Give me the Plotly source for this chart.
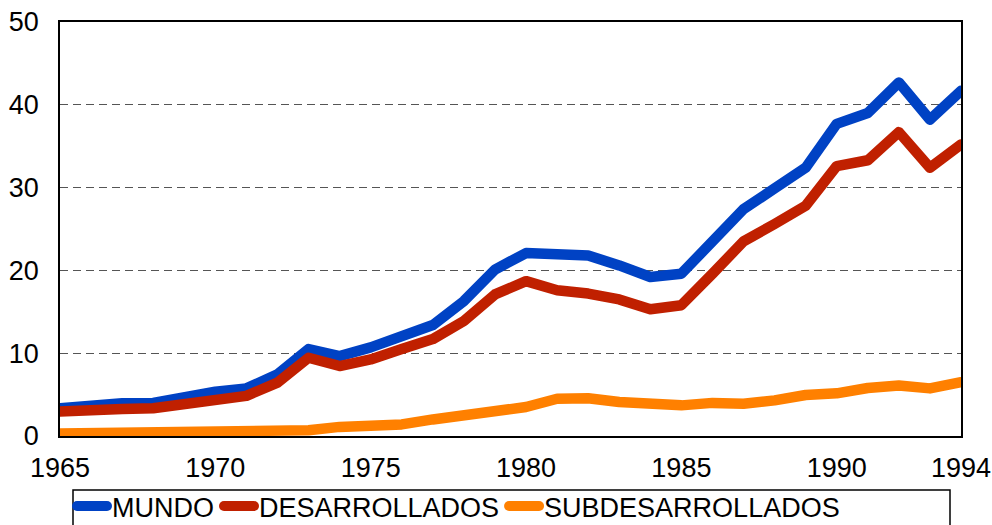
import plotly.graph_objects as go

years = list(range(1965, 1995))
mundo = [3.35, 3.8, 3.95, 4.0, 4.75, 5.35, 5.75, 7.45, 10.5, 9.65, 10.7, 12.1, 13.4, 16.3, 20.1,
         22.1, 22.0, 21.8, 20.6, 19.2, 19.6, 23.6, 27.4, 29.9, 32.4, 37.7, 39.0, 42.7, 38.2, 41.7]
desarrollados = [2.95, 3.2, 3.25, 3.35, 3.9, 4.4, 4.85, 6.45, 9.45, 8.45, 9.25, 10.5, 11.7, 13.9, 17.1,
                 18.7, 17.6, 17.2, 16.5, 15.3, 15.8, 19.6, 23.5, 25.6, 27.8, 32.6, 33.3, 36.7, 32.4, 35.2]
subdesarrollados = [0.3, 0.35, 0.2, 0.3, 0.3, 0.4, 0.45, 0.5, 0.7, 1.1, 1.15, 1.4, 2.0, 2.6, 3.1,
                    3.5, 4.5, 4.55, 4.1, 3.95, 3.7, 4.0, 3.9, 4.3, 4.95, 5.15, 5.8, 6.1, 5.75, 6.5]
x_ticks = [1965, 1970, 1975, 1980, 1985, 1990, 1994]
y_ticks = [0, 10, 20, 30, 40, 50]

series = [("MUNDO", mundo, "#0042C4"),
          ("DESARROLLADOS", desarrollados, "#C02000"),
          ("SUBDESARROLLADOS", subdesarrollados, "#FF8000")]

fig = go.Figure()
for name, vals, col in series:
    fig.add_trace(go.Scatter(x=years, y=vals, name=name, mode="lines", cliponaxis=False,
                             line=dict(color=col, width=10.5)))

font = dict(family="Liberation Sans, Arial, sans-serif", size=27, color="black")
fig.update_layout(
    width=992, height=525,
    margin=dict(l=60, r=31, t=22, b=89, autoexpand=False),
    paper_bgcolor="white", plot_bgcolor="white",
    font=font,
    showlegend=True,
    legend=dict(orientation="h", xref="container", yref="container",
                x=72 / 992, xanchor="left", y=1 - 482 / 525, yanchor="top",
                font=font, bgcolor="rgba(0,0,0,0)", borderwidth=0,
                tracegroupgap=0, itemwidth=30),
    xaxis=dict(range=[1965, 1994], tickvals=x_ticks, showgrid=False, automargin=False,
               showline=True, linecolor="black", linewidth=1.5, mirror=True,
               ticks="", ticklabelstandoff=7, zeroline=False),
    yaxis=dict(range=[0, 50], tickvals=y_ticks, showgrid=True, gridcolor="#555555",
               griddash="8px,5px", gridwidth=1, showline=True, linecolor="black", automargin=False,
               linewidth=1.5, mirror=True, ticks="", ticklabelstandoff=14, zeroline=False),
    shapes=[dict(type="rect", xref="paper", yref="paper",
                 x0=(73 - 60) / 901, x1=(950 - 60) / 901,
                 y0=(436 - 490) / 414.5, y1=(436 - 600) / 414.5,
                 line=dict(color="black", width=1.5), fillcolor="rgba(0,0,0,0)",
                 layer="above")],
)
post = (
    "document.body.style.margin='0';document.body.style.overflow='hidden';"
    "document.querySelectorAll('.scatterlayer path.js-line, .legend path.js-line')"
    ".forEach(function(p){p.style.strokeLinecap='round';p.style.strokeLinejoin='round';});"
)
fig.write_html("out.html", config={"displayModeBar": False}, post_script=post)
